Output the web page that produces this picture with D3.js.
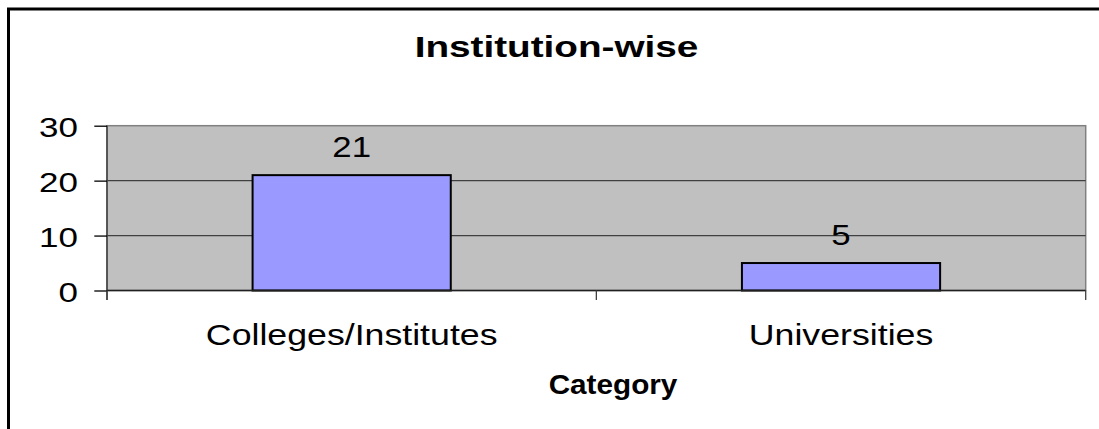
<!DOCTYPE html>
<html>
<head>
<meta charset="utf-8">
<script src="https://cdn.jsdelivr.net/npm/d3@7"></script>
<style>
  body { margin: 0; background: #fff; }
  svg { display: block; font-family: "Liberation Sans", Arial, sans-serif; }
</style>
</head>
<body>
<script>
// chart data
const categories = ['Colleges/Institutes', 'Universities'];
const counts = [21, 5];
const yTicks = [0, 10, 20, 30];
const chartTitle = 'Institution-wise';
const xTitle = 'Category';

const width = 1099, height = 429;
const plot = { left: 107, right: 1085.7, top: 125.7, bottom: 290.5 };

const svg = d3.select('body').append('svg')
    .attr('width', width)
    .attr('height', height);

// outer frame (runs off the right and bottom edges)
svg.append('rect')
    .attr('x', 8.5).attr('y', 9)
    .attr('width', width + 10).attr('height', height + 10)
    .attr('fill', '#fff')
    .attr('stroke', '#000')
    .attr('stroke-width', 3);

const x = d3.scaleBand()
    .domain(categories)
    .range([plot.left, plot.right])
    .padding(0);

const y = d3.scaleLinear()
    .domain([0, 30])
    .range([plot.bottom, plot.top]);

// text is drawn slightly wide, like the original
function label(px, py, txt, size, sx, anchor, weight) {
    svg.append('g')
        .attr('transform', `translate(${px},${py}) scale(${sx},1)`)
        .append('text')
        .attr('text-anchor', anchor)
        .attr('font-size', size)
        .attr('font-weight', weight || 'normal')
        .attr('fill', '#000')
        .text(txt);
}

// plot background
svg.append('rect')
    .attr('x', plot.left).attr('y', plot.top)
    .attr('width', plot.right - plot.left)
    .attr('height', plot.bottom - plot.top)
    .attr('fill', '#c0c0c0')
    .attr('stroke', '#808080')
    .attr('stroke-width', 1.5);

// gridlines
svg.append('g')
    .selectAll('line')
    .data(yTicks.filter(d => d > 0 && d < 30))
    .join('line')
    .attr('x1', plot.left).attr('x2', plot.right)
    .attr('y1', d => y(d)).attr('y2', d => y(d))
    .attr('stroke', '#404040')
    .attr('stroke-width', 1.2);

// bars
const barW = x.bandwidth() * 0.405;
svg.append('g')
    .selectAll('rect')
    .data(categories)
    .join('rect')
    .attr('x', d => x(d) + (x.bandwidth() - barW) / 2)
    .attr('y', (d, i) => y(counts[i]))
    .attr('width', barW)
    .attr('height', (d, i) => y(0) - y(counts[i]))
    .attr('fill', '#9999ff')
    .attr('stroke', '#000')
    .attr('stroke-width', 2);

// y axis
const yAxis = svg.append('g')
    .attr('transform', `translate(${plot.left},0)`)
    .call(d3.axisLeft(y).tickValues(yTicks).tickSize(12.7).tickFormat(''));
yAxis.select('.domain').attr('stroke', '#404040').attr('stroke-width', 1.5)
    .attr('d', `M0,${plot.top}V${plot.bottom + 9.5}`);
yAxis.selectAll('.tick line').attr('stroke', '#000').attr('stroke-width', 1.3);

yTicks.forEach(t => label(78, y(t) + 11.5, String(t), 28, 1.25, 'end'));

// x axis with boundary ticks
const xAxis = svg.append('g');
xAxis.append('line')
    .attr('x1', plot.left).attr('x2', plot.right)
    .attr('y1', plot.bottom).attr('y2', plot.bottom)
    .attr('stroke', '#202020').attr('stroke-width', 1.5);
const bounds = categories.map(c => x(c)).concat([x(categories[categories.length - 1]) + x.bandwidth()]);
xAxis.selectAll('.bt')
    .data(bounds)
    .join('line')
    .attr('x1', d => d).attr('x2', d => d)
    .attr('y1', plot.bottom).attr('y2', plot.bottom + 9.5)
    .attr('stroke', '#404040').attr('stroke-width', 1.3);

categories.forEach(c => label(x(c) + x.bandwidth() / 2, 345, c, 30, 1.19, 'middle'));

// value labels
categories.forEach((c, i) => label(x(c) + x.bandwidth() / 2, y(counts[i]) - 18, String(counts[i]), 29, 1.2, 'middle'));

// titles
label(556.5, 57, chartTitle, 30, 1.29, 'middle', 'bold');
label(613, 394, xTitle, 27, 1.1, 'middle', 'bold');
</script>
</body>
</html>
